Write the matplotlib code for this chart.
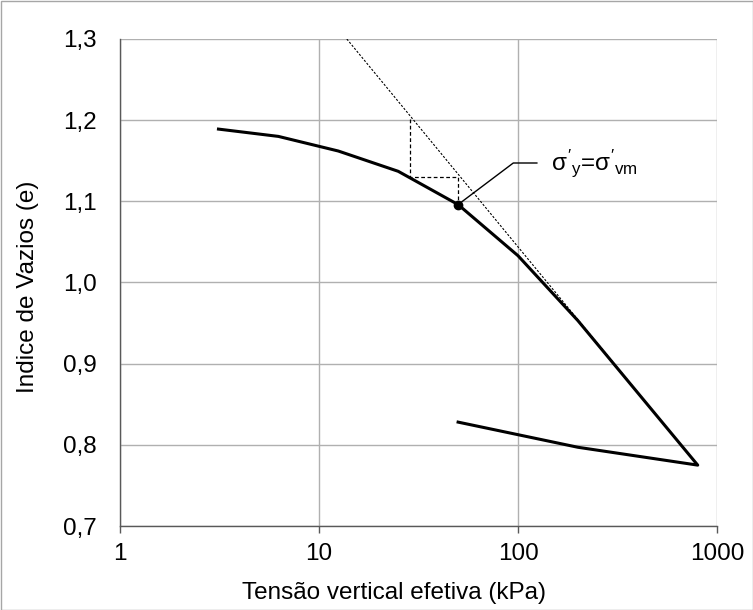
import matplotlib.pyplot as plt
from matplotlib.patches import Rectangle

plt.rcParams['font.family'] = ['Liberation Sans', 'DejaVu Sans']
plt.rcParams['mathtext.fontset'] = 'custom'
plt.rcParams['mathtext.rm'] = 'Liberation Sans'
plt.rcParams['mathtext.it'] = 'Liberation Sans'

# ensaio de adensamento: carregamento e descarregamento
tensao = [3.125, 6.25, 12.5, 25, 50, 100, 200, 400, 800, 200, 50]
vazios = [1.189, 1.180, 1.162, 1.137, 1.096, 1.033, 0.953, 0.864, 0.775, 0.797, 0.828]

# reta virgem prolongada
reta_x = [13.8, 800]
reta_y = [1.3, 0.775]

# construcao de Pacheco Silva
constr_x = [28.7, 28.7, 50, 50]
constr_y = [1.202, 1.13, 1.13, 1.096]

sigma_vm = 50
e_vm = 1.096

xticks = [1, 10, 100, 1000]
yticks = [0.7, 0.8, 0.9, 1.0, 1.1, 1.2, 1.3]

FS = 17.5
W, H = 753, 610
fig = plt.figure(figsize=(W / 100, H / 100), dpi=100)
ax = fig.add_axes([120 / W, 1 - 526 / H, 597 / W, 487 / H])

ax.set_xscale('log')
ax.set_xlim(1, 1000)
ax.set_ylim(0.7, 1.3)
ax.set_xticks(xticks)
ax.set_xticklabels([str(t) for t in xticks])
ax.set_yticks(yticks)
ax.set_yticklabels([f"{t:.1f}".replace('.', ',') for t in yticks])
ax.minorticks_off()

ax.grid(True, color='#b0b0b0', linewidth=1.0)
ax.set_axisbelow(True)
for side in ['top', 'right']:
    ax.spines[side].set_visible(False)
for side in ['left', 'bottom']:
    ax.spines[side].set_color('#595959')
    ax.spines[side].set_linewidth(1.0)
ax.tick_params(axis='x', direction='out', length=5, width=1.0, color='#595959',
               labelsize=FS, pad=7)
ax.tick_params(axis='y', length=0, labelsize=FS, pad=17)

ax.plot(reta_x, reta_y, color='black', linewidth=0.8, linestyle=(0, (2, 1.5)))
ax.plot(constr_x, constr_y, color='black', linewidth=0.9, linestyle=(0, (3, 2)))
ax.plot(tensao, vazios, color='black', linewidth=2.2, solid_joinstyle='round')
ax.plot([sigma_vm], [e_vm], 'o', color='black', markersize=6)

ax.annotate(r"$\sigma'_{y}$=$\sigma'_{vm}$", xy=(sigma_vm, e_vm), xytext=(551, H - 163),
            textcoords='figure pixels', fontsize=FS, va='center', ha='left',
            arrowprops=dict(arrowstyle='-', color='black', linewidth=1.0,
                            connectionstyle='angle,angleA=0,angleB=37,rad=0',
                            shrinkA=8, shrinkB=0))

ax.set_xlabel('Tensão vertical efetiva (kPa)', fontsize=FS)
ax.xaxis.set_label_coords((394 - 120) / 597, -(593 - 526) / 487)
ax.xaxis.label.set_va('center')
ax.set_ylabel('Indice de Vazios (e)', fontsize=FS)
ax.yaxis.set_label_coords(-(120 - 28) / 597, (526 - 287) / 487)
ax.yaxis.label.set_va('center')

fig.patches.append(Rectangle((0.5, 0.5), W - 1, H - 1, transform=None, fill=False,
                             edgecolor='#a6a6a6', linewidth=1.0))

fig.savefig('out.png', dpi=100)
